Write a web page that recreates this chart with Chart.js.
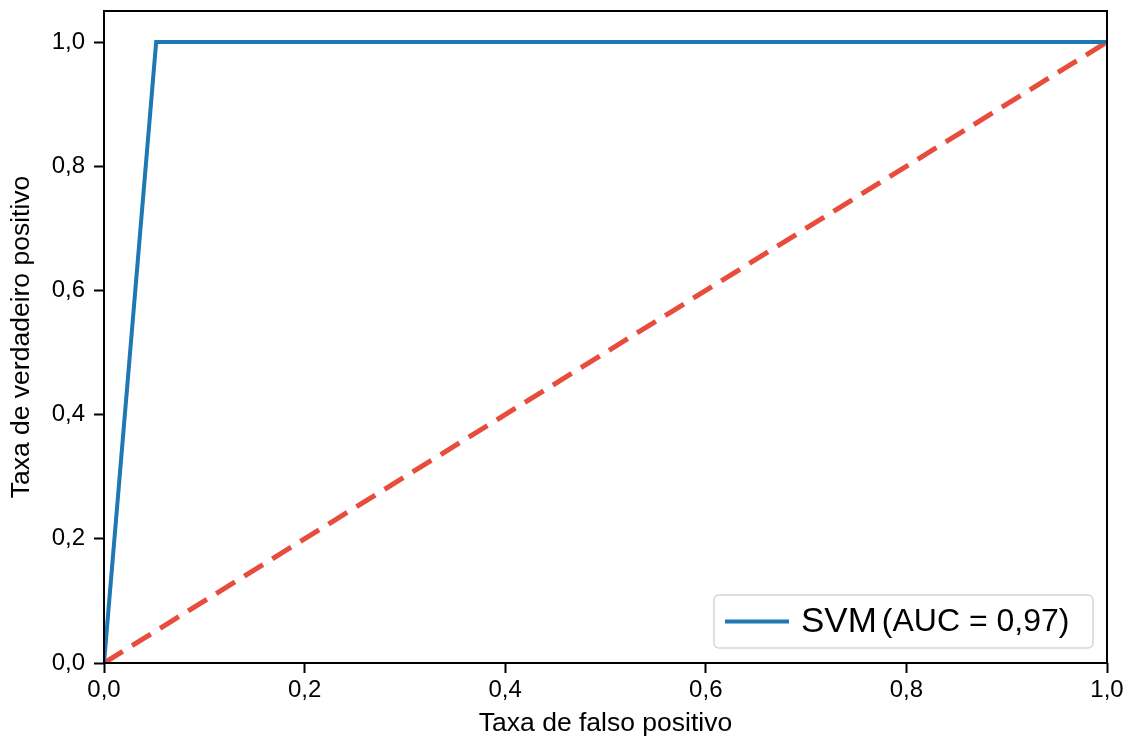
<!DOCTYPE html>
<html>
<head>
<meta charset="utf-8">
<script src="https://cdn.jsdelivr.net/npm/chart.js@4.4.0/dist/chart.umd.min.js"></script>
<style>
  html, body { margin: 0; padding: 0; background: #fff; }
  #wrap { width: 1133px; height: 742px; }
</style>
</head>
<body>
<div id="wrap"><canvas id="rocChart"></canvas></div>
<script>
// ROC curve values
const rocFpr = [0, 0.052, 1];
const rocTpr = [0, 1, 1];
const chanceFpr = [0, 1];
const chanceTpr = [0, 1];
const tickValues = [0, 0.2, 0.4, 0.6, 0.8, 1.0];
const legendName = 'SVM';
const legendAuc = '(AUC = 0,97)';

const fontFamily = '"Liberation Sans", Arial, sans-serif';

function fmt(v) {
    return v.toFixed(1).replace('.', ',');
}

// Frame round the plot area and the legend box inside it
const framePlugin = {
    id: 'frame',
    afterDatasetsDraw(chart) {
        const { ctx, chartArea: a } = chart;
        ctx.save();
        ctx.strokeStyle = '#000';
        ctx.lineWidth = 2;
        ctx.strokeRect(a.left, a.top, a.right - a.left, a.bottom - a.top);

        // legend
        const w = 379, h = 53;
        const x = a.right - 14 - w, y = a.bottom - 15 - h;
        ctx.beginPath();
        ctx.roundRect(x, y, w, h, 5);
        ctx.fillStyle = 'rgba(255,255,255,0.85)';
        ctx.fill();
        ctx.strokeStyle = '#d6d6d6';
        ctx.lineWidth = 1.5;
        ctx.stroke();

        ctx.beginPath();
        ctx.moveTo(x + 11, y + h / 2);
        ctx.lineTo(x + 75, y + h / 2);
        ctx.strokeStyle = '#1f77b4';
        ctx.lineWidth = 4;
        ctx.stroke();

        ctx.fillStyle = '#000';
        ctx.textBaseline = 'middle';
        ctx.font = '35px ' + fontFamily;
        ctx.fillText(legendName, x + 87, y + h / 2 + 1);
        const nameW = ctx.measureText(legendName).width;
        ctx.font = '32px ' + fontFamily;
        ctx.fillText(legendAuc, x + 87 + nameW + 5, y + h / 2 + 1);
        ctx.restore();
    }
};

const data = {
    datasets: [
        {
            label: 'SVM (AUC = 0,97)',
            data: rocFpr.map((v, i) => ({ x: v, y: rocTpr[i] })),
            borderColor: '#1f77b4',
            borderWidth: 4,
            pointRadius: 0,
            showLine: true,
            fill: false,
            order: 1
        },
        {
            label: 'Aleatório',
            data: chanceFpr.map((v, i) => ({ x: v, y: chanceTpr[i] })),
            borderColor: '#e84c3d',
            borderWidth: 5,
            borderDash: [22, 11],
            pointRadius: 0,
            showLine: true,
            fill: false,
            order: 2
        }
    ]
};

const axisCommon = {
    type: 'linear',
    grid: { display: true, drawOnChartArea: false, drawTicks: true, tickLength: 10, tickWidth: 2, tickColor: '#000' },
    border: { display: false },
    afterBuildTicks(scale) {
        scale.ticks = tickValues.map(v => ({ value: v }));
    }
};

new Chart(document.getElementById('rocChart'), {
    type: 'scatter',
    data: data,
    plugins: [framePlugin],
    options: {
        responsive: true,
        maintainAspectRatio: false,
        animation: false,
        layout: { padding: { left: 0, top: 11, right: 26, bottom: 0 } },
        plugins: { legend: { display: false }, tooltip: { enabled: false } },
        scales: {
            x: {
                ...axisCommon,
                position: 'bottom',
                min: 0,
                max: 1,
                ticks: {
                    color: '#000',
                    font: { family: fontFamily, size: 24 },
                    padding: 3,
                    maxRotation: 0,
                    callback: v => fmt(v)
                },
                title: {
                    display: true,
                    text: 'Taxa de falso positivo',
                    color: '#000',
                    font: { family: fontFamily, size: 26.5 },
                    padding: { top: 4, bottom: 2 }
                },
                afterFit(scale) {
                    scale.height = 79;
                    scale.paddingLeft = 0;
                    scale.paddingRight = 0;
                }
            },
            y: {
                ...axisCommon,
                position: 'left',
                min: 0,
                max: 1.05,
                ticks: {
                    color: '#000',
                    font: { family: fontFamily, size: 24 },
                    padding: 9,
                    callback: v => fmt(v)
                },
                title: {
                    display: true,
                    text: 'Taxa de verdadeiro positivo',
                    color: '#000',
                    font: { family: fontFamily, size: 26.5 },
                    padding: { top: 6, bottom: 4 }
                },
                afterFit(scale) {
                    scale.width = 104;
                    scale.paddingTop = 0;
                    scale.paddingBottom = 0;
                }
            }
        }
    }
});
</script>
</body>
</html>
